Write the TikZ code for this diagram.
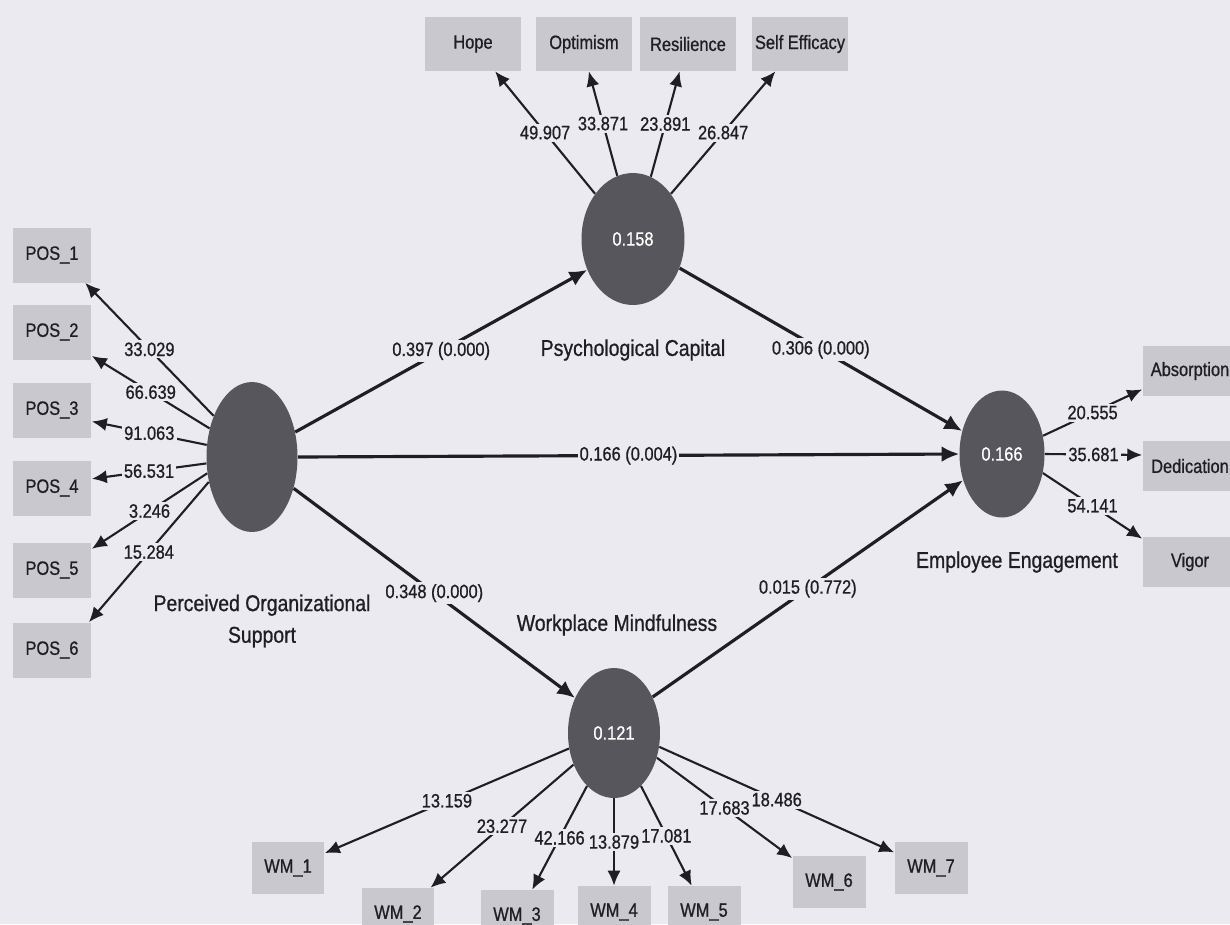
\documentclass[tikz,border=0pt]{standalone}
\usepackage{fontspec}
\setmainfont{Liberation Sans}[FakeStretch=0.85,FakeBold=0.8]
\usetikzlibrary{shapes.geometric,arrows.meta}
\definecolor{bg}{RGB}{234,234,240}
\definecolor{ink}{RGB}{30,30,35}
\definecolor{lvgray}{RGB}{86,86,92}
\definecolor{mvgray}{RGB}{200,200,206}
\newcommand\numfont{\fontsize{11}{13}\selectfont}
\newcommand\namefont{\fontsize{13}{18}\selectfont}

\begin{document}
\begin{tikzpicture}[x=0.02cm,y=-0.02cm,
  lv/.style={ellipse,fill=lvgray,text=white,inner sep=0pt,font=\numfont},
  mv/.style={fill=mvgray,text=ink,inner sep=0pt,font=\numfont},
  val/.style={fill=bg,text=ink,inner sep=1.2pt,font=\numfont},
  lvname/.style={text=ink,font=\namefont,align=center},
  ld/.style={draw=ink,line width=1.2pt,-{Latex[length=8.5pt,width=7.5pt]}},
  pth/.style={draw=ink,line width=1.8pt,-{Latex[length=10pt,width=9pt]}}]
\useasboundingbox (0,0) rectangle (1230,924);
\clip (0,0) rectangle (1230,924);
\fill[bg] (0,0) rectangle (1230,924);
% latent variables
\node[lv,minimum width=1.82cm,minimum height=3cm] (pos) at (252,457) {};
\node[lv,minimum width=2.06cm,minimum height=2.64cm] (psy) at (633,239) {0.158};
\node[lv,minimum width=1.7cm,minimum height=2.54cm] (ee) at (1002,454) {0.166};
\node[lv,minimum width=1.84cm,minimum height=2.6cm] (wm) at (614,733) {0.121};
\node[lvname] (posname) at (262,621) {Perceived Organizational\\Support};
\node[lvname] (psyname) at (633,350) {Psychological Capital};
\node[lvname] (eename) at (1017,562) {Employee Engagement};
\node[lvname] (wmname) at (617,625) {Workplace Mindfulness};
% indicators
\foreach \i/\y in {1/255,2/332,3/410,4/488,5/570,6/650}
  \node[mv,minimum width=1.58cm,minimum height=1.1cm] (pos\i) at (52,\y) {POS\_\i};
\foreach \n/\t/\x in {hope/Hope/473,opt/Optimism/584,res/Resilience/688,seff/Self Efficacy/800}
  \node[mv,minimum width=1.92cm,minimum height=1.08cm] (\n) at (\x,44) {\t};
\foreach \n/\t/\y in {abs/Absorption/371,ded/Dedication/466,vig/Vigor/562}
  \node[mv,minimum width=1.9cm,minimum height=1cm] (\n) at (1190,\y) {\t};
\foreach \i/\x/\y in {1/288/868,2/398/914,3/517/916,4/614/912,5/704/912,6/829/882,7/931/868}
  \node[mv,minimum width=1.46cm,minimum height=1.04cm] (wm\i) at (\x,\y) {WM\_\i};
% outer loadings
\foreach \i/\a/\b/\v in {1/133/-40/33.029,2/146/-31/66.639,3/165/-16/91.063,
    4/188/13/56.531,5/200/28/3.246,6/210/37/15.284}
  \draw[ld] (pos.\a) -- node[val] {\v} (pos\i.\b);
\foreach \n/\a/\b/\v in {hope/130/-51/49.907,opt/104/-80/33.871,res/74/-107/23.891,seff/50/-132/26.847}
  \draw[ld] (psy.\a) -- node[val] {\v} (\n.\b);
\foreach \n/\a/\b/\v in {abs/24/201/20.555,ded/0/167/35.681,vig/-25/154/54.141}
  \draw[ld] (ee.\a) -- node[val] {\v} (\n.\b);
\foreach \i/\a/\b/\v in {1/199/22/13.159,2/218/39/23.277,3/243/60/42.166,4/270/90/13.879,
    5/297/115/17.081,6/330/147/17.683,7/343/157/18.486}
  \draw[ld] (wm.\a) -- node[val] {\v} (wm\i.\b);
% path coefficients
\draw[pth] (pos.30) -- node[val] {0.397 (0.000)} (psy.214);
\draw[pth] (psy.328) -- node[val] {0.306 (0.000)} (ee.150);
\draw[pth] (pos.0) -- node[val] {0.166 (0.004)} (ee.180);
\draw[pth] (pos.323) -- node[val] {0.348 (0.000)} (wm.138);
\draw[pth] (wm.43) -- node[val] {0.015 (0.772)} (ee.214);
\end{tikzpicture}
\end{document}
